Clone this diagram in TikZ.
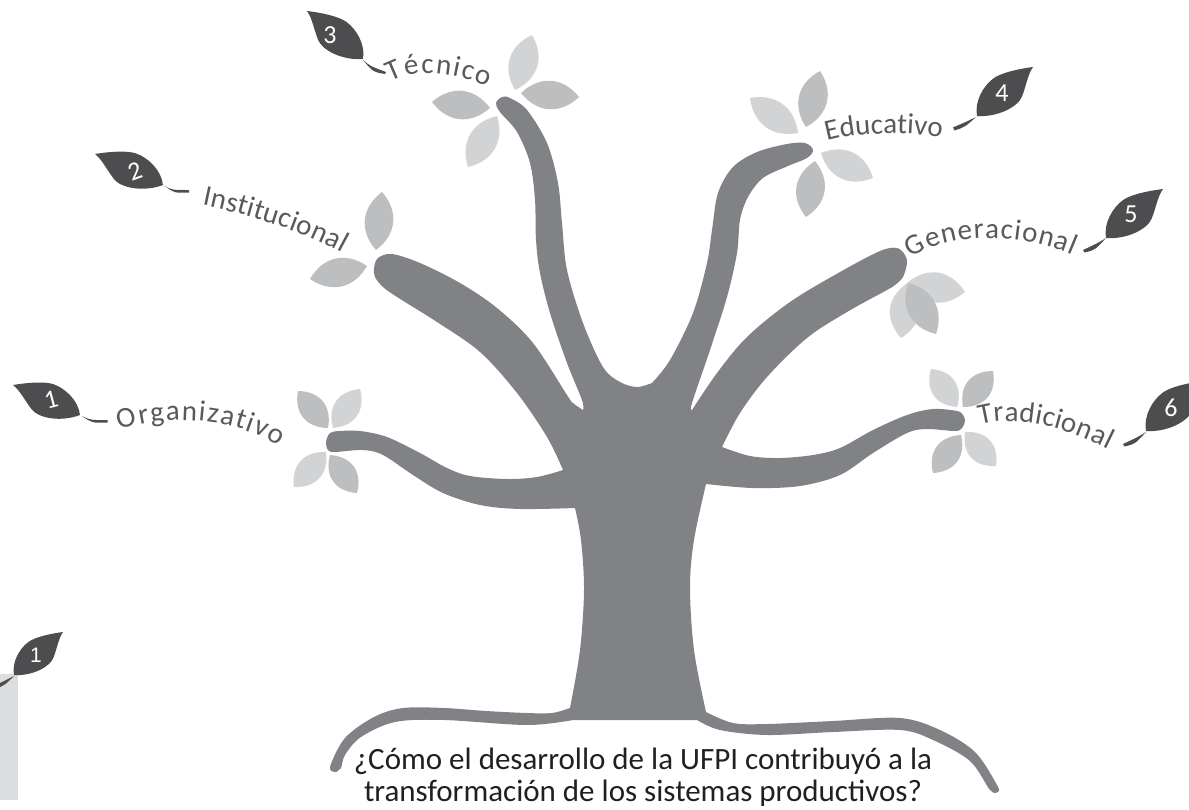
\documentclass[tikz,border=0pt]{standalone}
\usepackage{fontspec}
\setmainfont{Carlito}
\newfontfamily\digitfont{Liberation Sans}
\usetikzlibrary{calc,decorations.text}
\definecolor{trunkgray}{HTML}{808285}
\definecolor{leafdark}{HTML}{4D4D4F}
\definecolor{petallight}{HTML}{D1D3D4}
\definecolor{petalmid}{HTML}{BCBEC0}
\definecolor{labelgray}{HTML}{58595B}
\definecolor{questionink}{HTML}{231F20}
\definecolor{sidebar}{HTML}{DCDDDE}
\newcommand\petal[4]{%
  \fill[#1] (#2) .. controls ($(#2)!.3!(#3)!#4pt!90:(#3)$) and ($(#2)!.7!(#3)!#4pt!90:(#3)$) .. (#3)
    .. controls ($(#2)!.7!(#3)!#4pt!-90:(#3)$) and ($(#2)!.3!(#3)!#4pt!-90:(#3)$) .. (#2) -- cycle;}
\newcommand\darkleaf[5]{%
  \pgfmathsetmacro\ux{#3-#1}\pgfmathsetmacro\uy{#2-#4}%
  \pgfmathsetmacro\vx{-\uy*#5}\pgfmathsetmacro\vy{\ux*#5}%
  \fill[leafdark,shift={(#1,#2)},x={(\ux pt,\uy pt)},y={(\vx pt,\vy pt)}]
    (0,0) .. controls (.1,.17) and (.33,.25) .. (.5,.235)
    .. controls (.62,.225) and (.82,.12) .. (1,0)
    .. controls (.88,-.03) and (.78,-.12) .. (.63,-.20)
    .. controls (.5,-.27) and (.2,-.2) .. (0,0) -- cycle;}
\newcommand\curvedlabel[3]{%
  \path[decorate,decoration={text along path,text align={fit to path},
    text={|\fontsize{#1}{#1}\selectfont\color{labelgray}|#2}}] #3;}
\tikzset{leafnum/.style={text=white,font=\fontsize{26}{26}\selectfont,inner sep=0pt}}
\begin{document}
\begin{tikzpicture}[x=1pt,y=-1pt]
\useasboundingbox (0,0) rectangle (1189,809);
\clip (0,0) rectangle (1189,809);
\fill[sidebar] (0,674) rectangle (18,800);
% tree
\fill[trunkgray]
  plot[smooth,tension=.55] coordinates {(336,772) (330,767) (345,738) (374,717) (403,708) (444,708) (486,711) (527,713) (552,713) (570,708)}
  -- plot[smooth,tension=.55] coordinates {(570,708) (580,650) (584,590) (581,540) (575,508)}
  -- plot[smooth,tension=.55] coordinates {(575,508) (520,509) (480,505) (443,493) (413,475) (383,455) (363,450) (335,452) (328,450) (326,442) (330,433) (340,431) (360,431) (387,437) (420,453) (447,468) (470,476) (507,479) (537,477) (563,470)}
  -- plot[smooth,tension=.55] coordinates {(563,470) (547,437) (517,393) (480,352) (437,322) (397,297) (383,287) (375,277) (374,268) (378,258) (392,254) (420,263) (460,283) (497,308) (533,343) (567,395) (573,403) (583,410)}
  -- plot[smooth,tension=.55] coordinates {(583,410) (582,400) (567,363) (550,313) (540,273) (536,240) (535,200) (530,163) (517,132) (500,112) (496,103) (502,97) (510,98) (527,110) (547,143) (558,183) (562,223) (567,270) (583,323) (603,367) (620,382) (637,387) (652,383)}
  -- plot[smooth,tension=.55] coordinates {(652,383) (670,360) (693,313) (707,263) (712,230) (718,193) (733,167) (757,152) (787,144) (805,143) (813,150) (807,158) (788,166) (763,178) (748,197) (740,220) (737,253) (727,297) (710,350) (692,403) (692,410)}
  -- plot[smooth,tension=.55] coordinates {(692,410) (717,373) (747,337) (790,302) (840,272) (880,251) (897,248) (905,255) (907,263) (903,277) (895,285) (887,290) (847,312) (807,338) (767,377) (740,413) (722,447)}
  -- plot[smooth,tension=.55] coordinates {(722,447) (750,456) (780,458) (813,455) (840,448) (873,430) (907,415) (933,409) (957,411) (963,415) (965,421) (962,428) (955,431) (927,429) (907,433) (873,453) (840,475) (800,486) (753,488) (706,484)}
  -- plot[smooth,tension=.55] coordinates {(706,484) (694,540) (690,587) (694,650) (706,712)}
  -- plot[smooth,tension=.55] coordinates {(706,712) (733,723) (767,724) (833,721) (900,718) (940,730) (975,752) (997,785) (998,792) (990,790) (970,761) (933,740) (900,730) (833,732) (767,735) (720,730) (697,720)}
  -- (573,720)
  -- plot[smooth,tension=.55] coordinates {(573,720) (527,725) (444,720) (395,722) (361,737) (345,755) (341,768) (336,772)}
  -- cycle;
% petals
\petal{petallight}{515,90}{532,35}{19}
\petal{petalmid}{521,93}{579,97}{19}
\petal{petalmid}{490,108}{432,102}{19}
\petal{petallight}{497,116}{468,167}{19}
\petal{petalmid}{806,127}{820,71}{19}
\petal{petallight}{798,133}{750,98}{19}
\petal{petallight}{821,153}{873,178}{19}
\petal{petalmid}{815,161}{806,217}{19}
\petal{petallight}{907,283}{965,292}{20}
\petal{petallight}{909,282}{901,338}{20}
\petal{petalmid}{908,283}{936,334}{19}
\petal{petallight}{957,407}{931,369}{17}
\petal{petalmid}{963,407}{993,371}{17}
\petal{petalmid}{961,435}{933,473}{17}
\petal{petallight}{965,432}{996,466}{17}
\petal{petalmid}{328,428}{298,391}{17}
\petal{petallight}{333,428}{360,389}{17}
\petal{petallight}{326,452}{294,487}{17}
\petal{petalmid}{330,455}{357,493}{17}
\petal{petalmid}{376,250}{382,192}{19}
\petal{petalmid}{367,266}{310,279}{19}
% numbered leaves
\darkleaf{80}{415}{13}{385}{-1}
\darkleaf{163}{185}{95}{154}{-1}
\darkleaf{363}{59}{307}{11}{-1}
\darkleaf{977}{116}{1033}{67}{1}
\darkleaf{1106}{238}{1163}{189}{1}
\darkleaf{1146}{431}{1203}{381}{1}
\darkleaf{14}{675}{63}{632}{1}
% stems
\fill[leafdark] (82,416) .. controls (90,420) .. (107.5,420.2) -- (107.5,422.5) .. controls (92,423) .. (82,416) -- cycle;
\fill[leafdark] (165,186) .. controls (172,190) .. (189,190) -- (189,192.5) .. controls (174,193) .. (165,186) -- cycle;
\fill[leafdark] (363,60) .. controls (370,66) .. (386,72) -- (385,74) .. controls (373,72) .. (363,60) -- cycle;
\fill[leafdark] (976,117) .. controls (968,121) .. (953,127.5) -- (954.5,130.5) .. controls (965,127) .. (976,117) -- cycle;
\fill[leafdark] (1106,238) .. controls (1098,243) .. (1083,250) -- (1084.5,252.5) .. controls (1095,250) .. (1106,238) -- cycle;
\fill[leafdark] (1146,432) .. controls (1138,437) .. (1123,444) -- (1124.5,446.5) .. controls (1135,444) .. (1146,432) -- cycle;
\fill[leafdark] (14,676) .. controls (8,679) .. (0,683) -- (0,687) .. controls (6,684) .. (14,676) -- cycle;
% numbers
\node[leafnum,rotate=15] (n1) at (51,400) {1};
\node[leafnum,rotate=20] (n2) at (135,171) {2};
\node[leafnum] (n3) at (330,35) {3};
\node[leafnum] (n4) at (1002,93) {4};
\node[leafnum] (n5) at (1131,214) {5};
\node[leafnum] (n6) at (1171,408) {6};
\node[leafnum,font=\digitfont\fontsize{21}{21}\selectfont] (n7) at (36,655) {1};
% curved labels
\curvedlabel{29}{Organizativo}{(120,430) .. controls (160,415) and (230,415) .. (279,446)}
\curvedlabel{29}{Institucional}{(202,205) .. controls (250,215) and (300,230) .. (342,253)}
\curvedlabel{29}{Técnico}{(391,82) .. controls (415,68) and (450,72) .. (488,86)}
\curvedlabel{29}{Educativo}{(827,141) .. controls (855,133) and (900,131) .. (941,137)}
\curvedlabel{29}{Generacional}{(911,258) .. controls (950,232) and (1020,232) .. (1073,255)}
\curvedlabel{29}{Tradicional}{(980,425) .. controls (1015,415) and (1060,425) .. (1108,449)}
% question
\node[text=questionink,align=center,inner sep=0pt,font=\fontsize{31}{32}\selectfont,anchor=base] (q) at (643,801)
  {¿Cómo el desarrollo de la UFPI contribuyó a la\\transformación de los sistemas productivos?};
\end{tikzpicture}
\end{document}
